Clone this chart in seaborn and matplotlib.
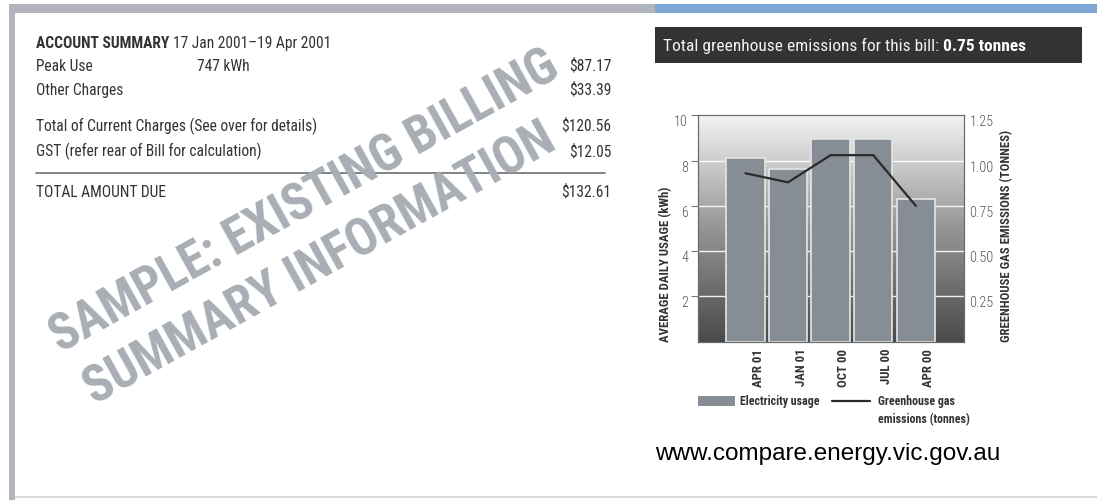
import numpy as np
import matplotlib
matplotlib.use("Agg")
import matplotlib.pyplot as plt
import matplotlib.transforms as mtransforms
from matplotlib import font_manager
from matplotlib.patches import Rectangle, Patch
from matplotlib.lines import Line2D
from matplotlib.text import Annotation
from matplotlib.colors import LinearSegmentedColormap
import seaborn as sns

# chart data
periods = ["APR 01", "JAN 01", "OCT 00", "JUL 00", "APR 00"]
daily_usage = [8.1, 7.65, 8.95, 8.95, 6.3]      # kWh per day
emissions = [0.93, 0.88, 1.03, 1.03, 0.75]      # tonnes
usage_ticks = [2, 4, 6, 8, 10]
emission_ticks = [0.25, 0.50, 0.75, 1.00, 1.25]

# account summary text
summary_period = "17 Jan 2001\u201319 Apr 2001"
summary_labels = ["Peak Use", "Other Charges",
                  "Total of Current Charges (See over for details)",
                  "GST (refer rear of Bill for calculation)",
                  "TOTAL AMOUNT DUE"]
summary_amounts = ["$87.17", "$33.39", "$120.56", "$12.05", "$132.61"]
peak_kwh = "747 kWh"
bill_emissions = "0.75 tonnes"

W, H = 1097, 500

def fx(px):
    return px / W

def fy(py):
    return 1 - py / H

sns.set_theme(style="white")

# pick a condensed face if one is installed, else a plain sans with smaller sizes
names = {f.name for f in font_manager.fontManager.ttflist}
stretch = "normal"
if "Roboto Condensed" in names:
    COND = "Roboto Condensed"
elif "Liberation Sans Narrow" in names:
    COND = "Liberation Sans Narrow"
elif any(f.name == "DejaVu Sans" and f.stretch in ("condensed", "semi-condensed")
         for f in font_manager.fontManager.ttflist):
    COND = "DejaVu Sans"
    stretch = "condensed"
else:
    COND = None
if COND:
    SZ = dict(body=11.2, mark=36.5, tick=10.2, lab=9.2, leg=8.6, head=12.5)
else:
    COND = "Liberation Sans"
    SZ = dict(body=10, mark=30.5, tick=8.5, lab=8, leg=7.5, head=11.3)
plt.rcParams["font.family"] = [COND, "DejaVu Sans"]
plt.rcParams["font.stretch"] = stretch

BAR = "#878d95"
DARK = "#333333"
GREY_FRAME = "#b2b6bc"

fig = plt.figure(figsize=(W / 100, H / 100), dpi=100)
fig.patch.set_facecolor("white")

# page frame
fig.patches.append(Rectangle((fx(9), fy(500)), 6 / W, 496 / H, transform=fig.transFigure, color=GREY_FRAME, lw=0))
fig.patches.append(Rectangle((fx(9), fy(12.5)), 646 / W, 8 / H, transform=fig.transFigure, color=GREY_FRAME, lw=0))
fig.patches.append(Rectangle((fx(655), fy(12.5)), 442 / W, 8 / H, transform=fig.transFigure, color="#7ea6d2", lw=0))
fig.patches.append(Rectangle((fx(15), fy(498)), 1082 / W, 2 / H, transform=fig.transFigure, color="#d8dbde", lw=0))

# account summary block
t = fig.text(fx(36), fy(47.7), "ACCOUNT SUMMARY ", fontsize=SZ["body"], fontweight="bold", color=DARK, va="baseline")
fig.add_artist(Annotation(summary_period, xy=(1, 0), xycoords=t, fontsize=SZ["body"], color=DARK,
                          va="bottom", ha="left"))
row_y = [71, 95, 131, 156, 197]
for lab, amt, y in zip(summary_labels, summary_amounts, row_y):
    fig.text(fx(36), fy(y), lab, fontsize=SZ["body"], color=DARK, va="baseline")
    fig.text(fx(611), fy(y), amt, fontsize=SZ["body"], color=DARK, va="baseline", ha="right")
fig.text(fx(197), fy(71), peak_kwh, fontsize=SZ["body"], color=DARK, va="baseline")
fig.add_artist(Line2D([fx(36), fx(605)], [fy(173.3), fy(173.3)], transform=fig.transFigure, color="#6e6e6e", lw=1.2))

# watermark
wm = dict(rotation=29, rotation_mode="anchor", ha="center", va="center", fontsize=SZ["mark"],
          fontweight="bold", color="#a9aeb5", zorder=5)
fig.text(fx(305), fy(202), "SAMPLE: EXISTING BILLING", **wm)
fig.text(fx(320), fy(265), "SUMMARY INFORMATION", **wm)

# header box
fig.patches.append(Rectangle((fx(655), fy(63)), 427 / W, 36 / H, transform=fig.transFigure, color=DARK, lw=0))
h1 = fig.text(fx(663), fy(51), "Total greenhouse emissions for this bill: ", fontsize=SZ["head"],
              color="#f2f2f2", va="baseline")
fig.add_artist(Annotation(bill_emissions, xy=(1, 0), xycoords=h1, fontsize=SZ["head"], fontweight="bold",
                          color="white", va="bottom", ha="left"))

# chart
ax = fig.add_axes([fx(697.7), fy(341.7), 266.3 / W, 226.4 / H])
sns.barplot(x=periods, y=daily_usage, order=periods, color=BAR, saturation=1, width=0.9,
            edgecolor="#e6e6e6", linewidth=1.2, errorbar=None, ax=ax, zorder=2)
xmin, xmax = -1.12, len(periods) - 1 + 1.13
cmap = LinearSegmentedColormap.from_list("bg", ["#4a4a4a", "#959595", "#f3f3f3"])
grad = np.linspace(0, 1, 256).reshape(-1, 1)
ax.imshow(grad, cmap=cmap, aspect="auto", extent=(xmin, xmax, 0, 10), origin="lower", zorder=0)
ax.set_xlim(xmin, xmax)
ax.set_ylim(0, 10)
ax.set_axisbelow(True)
ax.yaxis.grid(True, color="white", lw=1, alpha=0.9)
ax.set_yticks(usage_ticks)
ax.set_yticklabels([str(v) for v in usage_ticks], fontweight="light")
ax.tick_params(axis="y", left=True, length=5, width=0.8, color="#777777", pad=2,
               labelsize=SZ["tick"], labelcolor="#555555")
for lbl in ax.get_yticklabels():
    lbl.set_va("top")
ax.set_xticks(range(len(periods)))
ax.set_xticklabels(periods, rotation=90, fontsize=SZ["lab"], fontweight="bold", color=DARK)
ax.tick_params(axis="x", length=0, pad=5)
shift = mtransforms.ScaledTranslation(13 / 100, 0, fig.dpi_scale_trans)
for lbl in ax.get_xticklabels():
    lbl.set_transform(lbl.get_transform() + shift)
ax.set_xlabel("")
ax.set_ylabel("AVERAGE DAILY USAGE (kWh)", loc="bottom", fontsize=SZ["lab"], fontweight="bold", color=DARK)
ax.yaxis.set_label_coords(-0.097, 0)

ax2 = ax.twinx()
sns.lineplot(x=np.arange(len(periods)), y=emissions, color="#2a2a2a", linewidth=1.6, ax=ax2)
ax2.set_ylim(0, 1.25)
ax2.set_yticks(emission_ticks)
ax2.set_yticklabels([f"{v:.2f}" for v in emission_ticks], fontweight="light")
ax2.tick_params(axis="y", right=True, length=0, pad=4, labelsize=SZ["tick"], labelcolor="#555555")
for lbl in ax2.get_yticklabels():
    lbl.set_va("top")
ax2.set_ylabel("GREENHOUSE GAS EMISSIONS (TONNES)", loc="bottom", fontsize=SZ["lab"], fontweight="bold", color=DARK)
ax2.yaxis.set_label_coords(1.135, 0)
ax2.set_xlim(xmin, xmax)
for a in (ax, ax2):
    for s in a.spines.values():
        s.set_color("#6a6a6a")
        s.set_linewidth(0.8)

# legend
fs = SZ["leg"] * 100 / 72
fig.legend(handles=[Patch(facecolor=BAR, edgecolor="none")], labels=["Electricity usage"],
           loc="center left", bbox_to_anchor=(fx(697.7), fy(401.5)), frameon=False,
           borderpad=0, borderaxespad=0, handlelength=37.3 / fs, handleheight=10.7 / fs,
           handletextpad=5 / fs, prop={"size": SZ["leg"], "weight": "bold"}, labelcolor=DARK)
fig.legend(handles=[Line2D([], [], color="#2a2a2a", lw=1.6)], labels=["Greenhouse gas"],
           loc="center left", bbox_to_anchor=(fx(831.7), fy(401.5)), frameon=False,
           borderpad=0, borderaxespad=0, handlelength=38.3 / fs, handletextpad=8 / fs,
           prop={"size": SZ["leg"], "weight": "bold"}, labelcolor=DARK)
fig.text(fx(878), fy(420), "emissions (tonnes)", fontsize=SZ["leg"], fontweight="bold", color=DARK, va="center")

# footer url
fig.text(fx(655), fy(460), "www.compare.energy.vic.gov.au", fontsize=17.5, color="black",
         va="baseline", family=["Liberation Sans", "DejaVu Sans"], fontstretch="normal")

fig.savefig("out.png", dpi=100)
